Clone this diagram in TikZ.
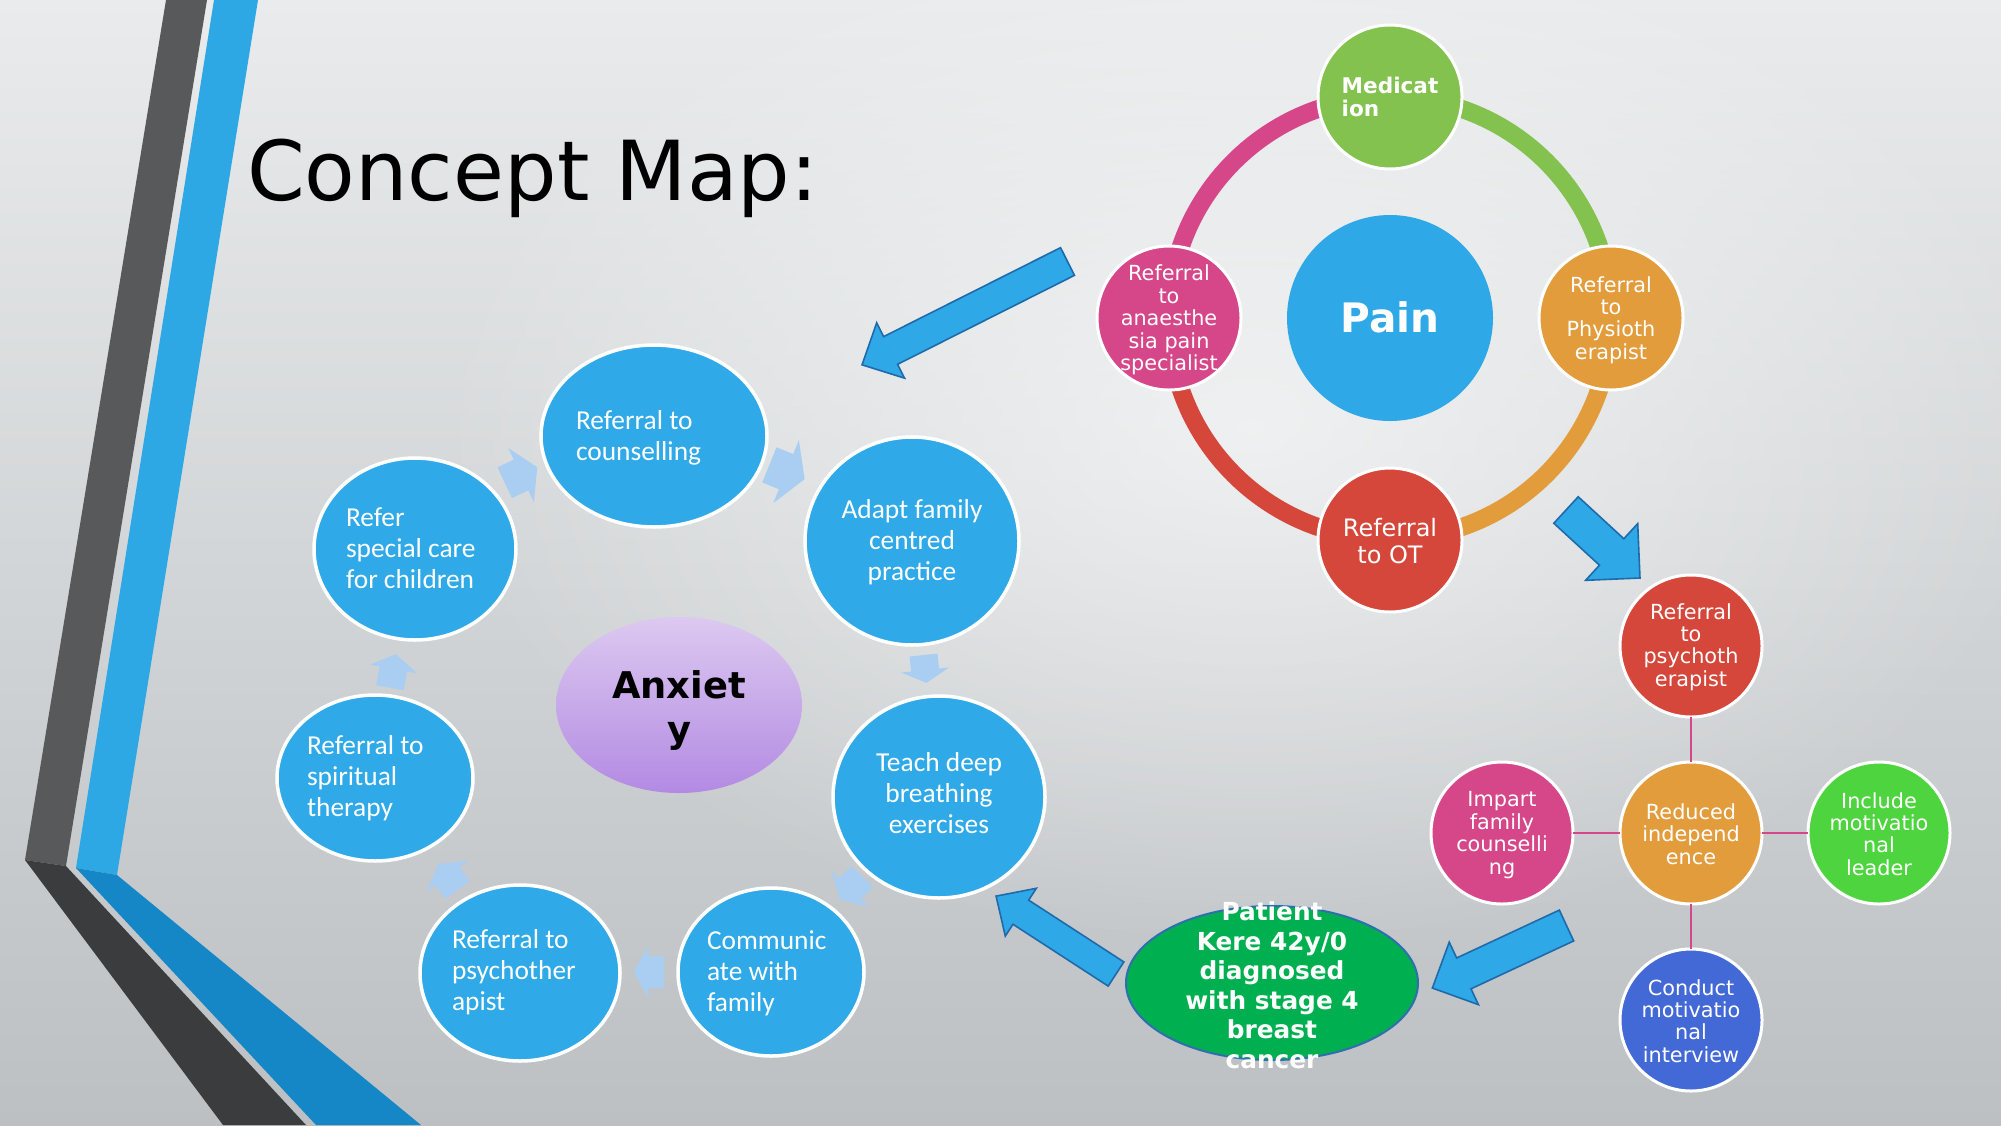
\documentclass[tikz,border=0pt]{standalone}
\usepackage{fontspec}
\setmainfont{DejaVu Sans}
\newfontfamily\carlito{Carlito}
\usetikzlibrary{calc,fadings,shapes.geometric}
\tikzfading[name=softglow, inner color=transparent!0, outer color=transparent!100]
\definecolor{bgtop}{HTML}{E9EBEC}
\definecolor{bgbot}{HTML}{BCC0C3}
\definecolor{darkband}{HTML}{58595B}
\definecolor{darkleg}{HTML}{3B3C3E}
\definecolor{blueband}{HTML}{2EA8E5}
\definecolor{blueleg}{HTML}{1587C7}
\definecolor{painblue}{HTML}{2EA8E6}
\definecolor{ellblue}{HTML}{2FA9E7}
\definecolor{pinkc}{HTML}{D6478A}
\definecolor{greenc}{HTML}{83C24F}
\definecolor{orangec}{HTML}{E39C3C}
\definecolor{redc}{HTML}{D5473A}
\definecolor{brightgreen}{HTML}{4ED43F}
\definecolor{conblue}{HTML}{4369D7}
\definecolor{patgreen}{HTML}{00B050}
\definecolor{patline}{HTML}{2F6FB0}
\definecolor{arrblue}{HTML}{2EA8E6}
\definecolor{arrline}{HTML}{1F6AAA}
\definecolor{paleblue}{HTML}{A9CEF1}
\definecolor{anxtop}{HTML}{DCC9F0}
\definecolor{anxbot}{HTML}{B38AE3}
\newcommand{\bigarrow}[6]{%
\begin{scope}[shift={#1}, rotate=#2]
\path[bigarr] (0,-#4) -- ({#3-#6},-#4) -- ({#3-#6},-#5) -- (#3,0) -- ({#3-#6},#5) -- ({#3-#6},#4) -- (0,#4) -- cycle;
\end{scope}}
\newcommand{\palearrow}[6]{%
\begin{scope}[shift={#1}, rotate=#2]
\path[palearr] (-#3,-#4) -- ({#3-#6},-#4) -- ({#3-#6},-#5) -- (#3,0) -- ({#3-#6},#5) -- ({#3-#6},#4) -- (-#3,#4) -- cycle;
\end{scope}}
\begin{document}
\begin{tikzpicture}[x=0.5pt,y=-0.5pt,
  every node/.style={inner sep=0pt, outer sep=0pt},
  bigarr/.style={fill=arrblue, draw=arrline, line width=0.8pt, line join=miter},
  palearr/.style={fill=paleblue},
  ringarc/.style={line width=9pt},
  pcirc/.style={circle, minimum size=72pt, draw=white, line width=1.5pt},
  ccirc/.style={circle, minimum size=71pt, draw=white, line width=1.5pt},
  ctext/.style={text=white, align=center, font=\fontsize{10.4}{11.2}\selectfont},
  blueell/.style={ellipse, fill=ellblue, draw=white, line width=1.75pt},
  etext/.style={text=white, font=\carlito\fontsize{13.7}{15.6}\selectfont},
  link/.style={draw=pinkc, line width=1.25pt}]
\useasboundingbox (0,0) rectangle (2001,1125);
% background
\shade[top color=bgtop, bottom color=bgbot] (0,0) rectangle (2001,1125);
\fill[white, fill opacity=0.6, path fading=softglow] (1250,430) ellipse [x radius=820, y radius=520];
% left bands
\fill[darkband] (166,0) -- (207,0) -- (66,866) -- (25,860) -- cycle;
\fill[darkleg] (25,860) -- (66,866) -- (306,1125) -- (223,1125) -- cycle;
\fill[blueband] (214,0) -- (258,0) -- (117,875) -- (76,868) -- cycle;
\fill[blueleg] (76,868) -- (117,875) -- (421,1125) -- (316,1125) -- cycle;
% title
\node[anchor=base west, font=\fontsize{41.4}{44}\selectfont] (title) at (247,200) {Concept Map:};
% pain cycle
\coordinate (pc) at (1390,318);
\draw[ringarc, pinkc] (pc) ++(180:221) arc[start angle=180, end angle=270, radius=221];
\draw[ringarc, greenc] (pc) ++(270:221) arc[start angle=270, end angle=360, radius=221];
\draw[ringarc, orangec] (pc) ++(0:221) arc[start angle=0, end angle=90, radius=221];
\draw[ringarc, redc] (pc) ++(90:221) arc[start angle=90, end angle=180, radius=221];
\node[circle, minimum size=103pt, fill=painblue] (pain) at (pc) {};
\node[text=white, font=\bfseries\fontsize{20.3}{24}\selectfont] (painT) at (1390,317) {Pain};
\node[pcirc, fill=greenc] (med) at (1390,97) {};
\node[text=white, align=left, font=\bfseries\fontsize{10.8}{11.5}\selectfont] (medT) at (1390,97) {Medicat\\ion};
\node[pcirc, fill=pinkc] (anae) at (1169,318) {};
\node[ctext] (anaeT) at (1169,320) {Referral\\to\\anaesthe\\sia pain\\specialist};
\node[pcirc, fill=orangec] (phys) at (1611,318) {};
\node[ctext] (physT) at (1611,320) {Referral\\to\\Physioth\\erapist};
\node[pcirc, fill=redc] (ot) at (1390,540) {};
\node[ctext, font=\fontsize{12}{13.5}\selectfont] (otT) at (1390,541) {Referral\\to OT};
% right cluster
\node[ccirc, fill=redc] (rpsy) at (1691,646) {};
\node[ccirc, fill=orangec] (red) at (1691,833) {};
\node[ccirc, fill=pinkc] (imp) at (1502,833) {};
\node[ccirc, fill=brightgreen] (inc) at (1879,833) {};
\node[ccirc, fill=conblue] (cond) at (1691,1020) {};
\draw[link] (rpsy) -- (red);
\draw[link] (imp) -- (red);
\draw[link] (inc) -- (red);
\draw[link] (cond) -- (red);
\node[ctext] (rpsyT) at (1691,647) {Referral\\to\\psychoth\\erapist};
\node[ctext] (redT) at (1691,834) {Reduced\\independ\\ence};
\node[ctext] (impT) at (1502,835) {Impart\\family\\counselli\\ng};
\node[ctext] (incT) at (1879,834) {Include\\motivatio\\nal\\leader};
\node[ctext] (condT) at (1691,1021) {Conduct\\motivatio\\nal\\interview};
% anxiety cycle
\node[blueell, minimum width=113pt, minimum height=91pt] (couns) at (654,436) {};
\node[blueell, minimum width=107pt, minimum height=104pt] (adapt) at (912,541) {};
\node[blueell, minimum width=101pt, minimum height=91pt] (special) at (415,549) {};
\node[blueell, minimum width=106pt, minimum height=101pt] (teach) at (939,797) {};
\node[blueell, minimum width=98pt, minimum height=83pt] (spirit) at (375,778) {};
\node[blueell, minimum width=100pt, minimum height=88pt] (psyth) at (520,973) {};
\node[blueell, minimum width=93pt, minimum height=84pt] (comm) at (771,972) {};
\node[ellipse, minimum width=123pt, minimum height=88pt, top color=anxtop, bottom color=anxbot] (anx) at (679,705) {};
\node[etext, align=left, anchor=west] (counsT) at (576,438) {Referral to\\counselling};
\node[etext, align=center] (adaptT) at (912,542) {Adapt family\\centred\\practice};
\node[etext, align=left, anchor=west] (specialT) at (346,548) {Refer\\special care\\for children};
\node[etext, align=center] (teachT) at (939,793) {Teach deep\\breathing\\exercises};
\node[etext, align=left, anchor=west] (spiritT) at (307,778) {Referral to\\spiritual\\therapy};
\node[etext, align=left, anchor=west] (psythT) at (452,972) {Referral to\\psychother\\apist};
\node[etext, align=left, anchor=west] (commT) at (707,973) {Communic\\ate with\\family};
\node[align=center, font=\bfseries\fontsize{18.4}{22}\selectfont] (anxT) at (679,710) {Anxiet\\y};
% pale cycle arrows
\coordinate (s1) at (521,475);
\coordinate (s2) at (787,472);
\coordinate (s3) at (925,669);
\coordinate (s4) at (393,671);
\coordinate (s5) at (851,888);
\coordinate (s6) at (649,972);
\coordinate (s7) at (448,877);
\palearrow{(s1)}{25.3}{18}{17}{30}{18}
\palearrow{(s2)}{-22.1}{19}{19}{34}{20}
\palearrow{(s3)}{-84}{14}{14}{24}{13}
\palearrow{(s4)}{79.8}{17}{14}{24}{15}
\palearrow{(s5)}{-133.8}{16}{15}{26}{15}
\palearrow{(s6)}{180}{15}{16}{26}{14}
\palearrow{(s7)}{126.6}{16}{15}{26}{15}
% patient
\node[ellipse, minimum width=146pt, minimum height=77pt, fill=patgreen, draw=patline, line width=1pt] (patient) at (1272,983) {};
\node[text=white, align=center, font=\bfseries\fontsize{12.4}{14.75}\selectfont] (patientT) at (1272,985) {Patient\\Kere 42y/0\\diagnosed\\with stage 4\\breast\\cancer};
% big arrows
\coordinate (a1) at (1067.5,261.5);
\coordinate (a2) at (1566,510);
\coordinate (a3) at (1116,974);
\coordinate (a4) at (1566.5,925.5);
\bigarrow{(a1)}{206.7}{230}{15.5}{31}{32}
\bigarrow{(a2)}{-42.6}{100.5}{18}{38.5}{38.5}
\bigarrow{(a3)}{147}{143}{14.4}{28.5}{29.5}
\bigarrow{(a4)}{205}{148}{17}{34.5}{34.7}
\end{tikzpicture}
\end{document}
